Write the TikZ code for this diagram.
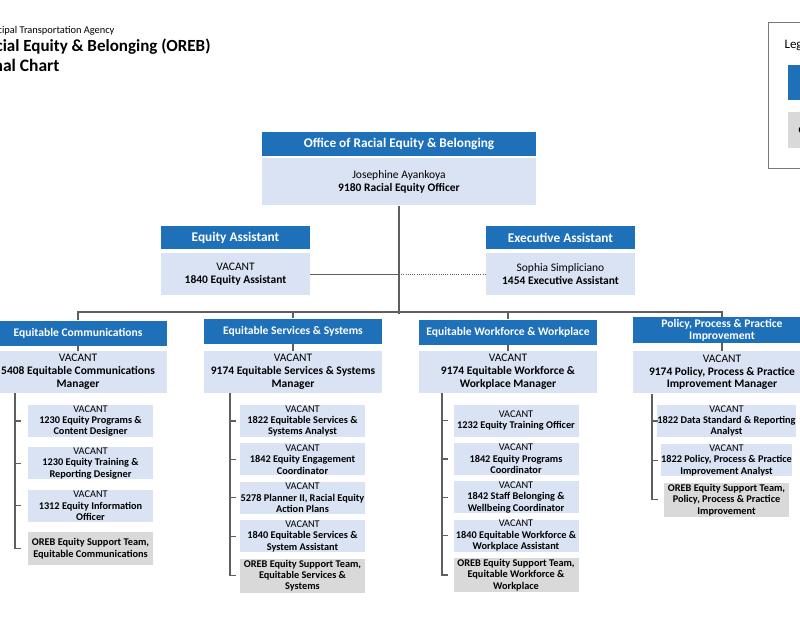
\documentclass[tikz,border=0pt]{standalone}
\usepackage{fontspec}
\setmainfont{Carlito}
\usepackage{tikz}
\usetikzlibrary{positioning}
\definecolor{orebblue}{RGB}{30,112,184}
\definecolor{orebpale}{RGB}{218,227,243}
\definecolor{orebgray}{RGB}{217,217,217}
\definecolor{orebline}{RGB}{95,95,95}
\definecolor{legline}{RGB}{120,120,120}
\tikzset{
  box/.style = {rectangle, align=center, inner sep=0pt, text centered},
  hdr/.style = {box, fill=orebblue, text=white,
    font=\fontsize{13.3}{14}\selectfont\bfseries, minimum height=24},% en-tete bleu
  dvh/.style = {hdr, font=\fontsize{11.6}{12.2}\selectfont\bfseries,
    minimum width=178, minimum height=25},% en-tete de division
  bdy/.style = {box, fill=orebpale, font=\fontsize{11.5}{12.8}\selectfont\bfseries},% poste
  sub/.style = {box, fill=orebpale, font=\fontsize{10.3}{11.4}\selectfont\bfseries,
    minimum width=125, minimum height=32},% poste d'equipe
  spt/.style = {sub, fill=orebgray, minimum height=34},% equipe de soutien
  conn/.style = {draw=orebline, line width=1.3pt},
  dots/.style = {conn, line width=1pt, dash pattern=on 1pt off 1.2pt}
}
\begin{document}
\begin{tikzpicture}[x=1pt,y=-1pt]
        \useasboundingbox (0,0) rectangle (800,640);
        \clip (0,0) rectangle (800,640);
        \fill[white] (0,0) rectangle (800,640);
        % titre
        \node [anchor=base east, font=\fontsize{10.4}{12}\selectfont] (ttl1) at (118,33)
            {San Francisco Municipal Transportation Agency};
        \node [anchor=base east, font=\fontsize{17}{19}\selectfont\bfseries] (ttl2) at (214,51)
            {Office of Racial Equity \& Belonging (OREB)};
        \node [anchor=base east, font=\fontsize{17.5}{19}\selectfont\bfseries] (ttl3) at (63,71)
            {Organizational Chart};
        % legende
        \node [draw=legline, line width=1.2pt, minimum width=80, minimum height=146,
            anchor=north west] (leg) at (768,22) {};
        \node [anchor=base west, font=\fontsize{13}{14}\selectfont] (leg_t) at (781,48) {Legend};
        \node [box, fill=orebblue, minimum width=60, minimum height=35, anchor=north west]
            (leg_b) at (788,65) {};
        \node [box, fill=orebgray, minimum width=60, minimum height=36, anchor=north west]
            (leg_g) at (788,112) {};
        \node [anchor=west, font=\fontsize{10}{11}\selectfont\bfseries] (leg_gt) at (795,130) {Consultant};
        % direction
        \node [hdr, minimum width=274] (oreb_h) at (399,144) {Office of Racial Equity \& Belonging};
        \node [bdy, minimum width=274, minimum height=47, below=2pt of oreb_h] (oreb_b)
            {{\mdseries Josephine Ayankoya}\\9180 Racial Equity Officer};
        \node [hdr, minimum width=149, minimum height=23] (ea_h) at (235.5,237.5) {Equity Assistant};
        \node [bdy, minimum width=149, minimum height=42, below=4pt of ea_h] (ea_b)
            {{\mdseries VACANT}\\1840 Equity Assistant};
        \node [hdr, minimum width=149, minimum height=23] (xa_h) at (560.5,237.5) {Executive Assistant};
        \node [bdy, minimum width=149, minimum height=42, below=4pt of xa_h] (xa_b)
            {{\mdseries Sophia Simpliciano}\\1454 Executive Assistant};
        \coordinate (bus) at (399,312);
        % divisions
        \node [dvh] (d1_h) at (78,333) {Equitable Communications};
        \node [bdy, minimum width=178, minimum height=42, below=5pt of d1_h] (d1_b)
            {{\mdseries VACANT}\\5408 Equitable Communications\\Manager};
        \node [dvh] (d2_h) at (293,331) {Equitable Services \& Systems};
        \node [bdy, minimum width=178, minimum height=42, below=7pt of d2_h] (d2_b)
            {{\mdseries VACANT}\\9174 Equitable Services \& Systems\\Manager};
        \node [dvh] (d3_h) at (508,332) {Equitable Workforce \& Workplace};
        \node [bdy, minimum width=178, minimum height=42, below=6pt of d3_h] (d3_b)
            {{\mdseries VACANT}\\9174 Equitable Workforce \&\\Workplace Manager};
        \node [dvh, minimum height=26] (d4_h) at (722,330) {Policy, Process \& Practice\\Improvement};
        \node [bdy, minimum width=178, minimum height=42, below=8pt of d4_h] (d4_b)
            {{\mdseries VACANT}\\9174 Policy, Process \& Practice\\Improvement Manager};
        % equipe 1
        \node [sub] (s1_1) at (90.5,421) {{\mdseries VACANT}\\1230 Equity Programs \&\\Content Designer};
        \node [sub, below=10pt of s1_1] (s1_2) {{\mdseries VACANT}\\1230 Equity Training \&\\Reporting Designer};
        \node [sub, below=10pt of s1_2] (s1_3) {{\mdseries VACANT}\\1312 Equity Information\\Officer};
        \node [spt, minimum height=33, below=10pt of s1_3] (g1) {OREB Equity Support Team,\\Equitable Communications};
        % equipe 2
        \node [sub] (s2_1) at (302.5,421) {{\mdseries VACANT}\\1822 Equitable Services \&\\Systems Analyst};
        \node [sub, below=6pt of s2_1] (s2_2) {{\mdseries VACANT}\\1842 Equity Engagement\\Coordinator};
        \node [sub, below=6pt of s2_2] (s2_3) {{\mdseries VACANT}\\5278 Planner II, Racial Equity\\Action Plans};
        \node [sub, below=6pt of s2_3] (s2_4) {{\mdseries VACANT}\\1840 Equitable Services \&\\System Assistant};
        \node [spt, below=6pt of s2_4] (g2) {OREB Equity Support Team,\\Equitable Services \&\\Systems};
        % equipe 3
        \node [sub] (s3_1) at (516,420.5) {{\mdseries VACANT}\\1232 Equity Training Officer};
        \node [sub, below=6pt of s3_1] (s3_2) {{\mdseries VACANT}\\1842 Equity Programs\\Coordinator};
        \node [sub, below=6pt of s3_2] (s3_3) {{\mdseries VACANT}\\1842 Staff Belonging \&\\Wellbeing Coordinator};
        \node [sub, below=6pt of s3_3] (s3_4) {{\mdseries VACANT}\\1840 Equitable Workforce \&\\Workplace Assistant};
        \node [spt, below=6pt of s3_4] (g3) {OREB Equity Support Team,\\Equitable Workforce \&\\Workplace};
        % equipe 4
        \node [sub] (s4_1) at (726.5,421) {{\mdseries VACANT}\\1822 Data Standard \& Reporting\\Analyst};
        \node [sub, below=7pt of s4_1] (s4_2) {{\mdseries VACANT}\\1822 Policy, Process \& Practice\\Improvement Analyst};
        \node [spt, below=6pt of s4_2] (g4) {OREB Equity Support Team,\\Policy, Process \& Practice\\Improvement};
        % liens
        \coordinate (l1) at (15,0);
        \coordinate (l2) at (230,0);
        \coordinate (l3) at (442,0);
        \coordinate (l4) at (652,0);
        \draw [conn] (oreb_b.south) -- ([yshift=-2pt]oreb_b.south |- bus);
        \draw [conn] (ea_b.east) -- (ea_b.east -| oreb_b.south);
        \draw [dots] (xa_b.west) -- (xa_b.west -| oreb_b.south);
        \draw [conn] (d1_h.north) |- (bus) -| (d4_h.north);
        \draw [conn] (d2_h.north) -- (d2_h.north |- bus);
        \draw [conn] (d3_h.north) -- (d3_h.north |- bus);
        \draw [conn] (d1_h.south) -- (d1_b.north);
        \draw [conn] (d2_h.south) -- (d2_b.north);
        \draw [conn] (d3_h.south) -- (d3_b.north);
        \draw [conn] (d4_h.south) -- (d4_b.north);
        \draw [conn] (l1 |- d1_b.south) -- (l1 |- g1.west) -- ++(6,0)
            (l1 |- s1_1.west) -- ++(6,0) (l1 |- s1_2.west) -- ++(6,0) (l1 |- s1_3.west) -- ++(6,0);
        \draw [conn] (l2 |- d2_b.south) -- (l2 |- g2.west) -- ++(6,0)
            (l2 |- s2_1.west) -- ++(6,0) (l2 |- s2_2.west) -- ++(6,0)
            (l2 |- s2_3.west) -- ++(6,0) (l2 |- s2_4.west) -- ++(6,0);
        \draw [conn] (l3 |- d3_b.south) -- (l3 |- g3.west) -- ++(6,0)
            (l3 |- s3_1.west) -- ++(6,0) (l3 |- s3_2.west) -- ++(6,0)
            (l3 |- s3_3.west) -- ++(6,0) (l3 |- s3_4.west) -- ++(6,0);
        \draw [conn] (l4 |- d4_b.south) -- (l4 |- g4.west) -- ++(6,0)
            (l4 |- s4_1.west) -- ++(6,0) (l4 |- s4_2.west) -- ++(6,0);
\end{tikzpicture}
\end{document}
